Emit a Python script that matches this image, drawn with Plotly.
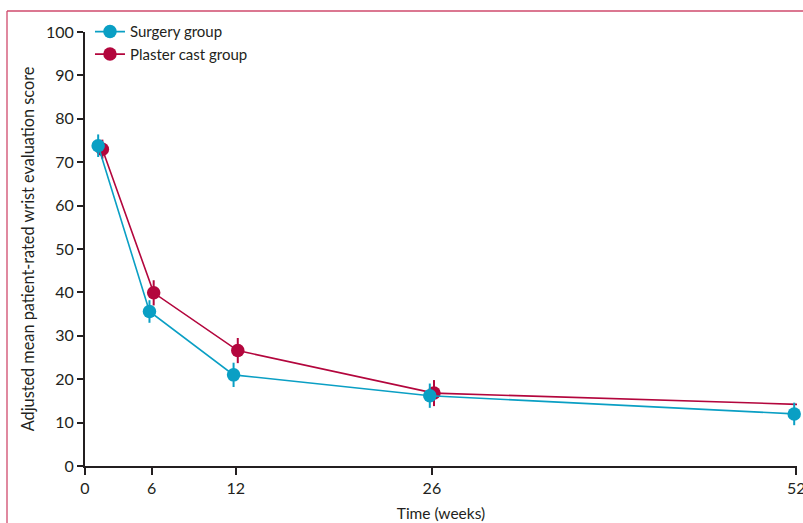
import plotly.graph_objects as go

# ---- data ----
visit_labels = ["0", "6", "12", "26", "52"]
visit_tick_pos = [1.25, 6, 12, 26, 52]        # where the drawn axis puts each label
visit_plot_x = [2.34, 6, 12, 26, 52]          # where each visit's estimate is drawn

surgery_mean = [73.8, 35.6, 21.0, 16.2, 12.0]
surgery_err = [2.6, 2.6, 2.8, 2.8, 2.6]

plaster_mean = [73.0, 39.9, 26.6, 16.8, 14.2]
plaster_err = [2.2, 2.9, 2.9, 3.0, 2.6]

y_ticks = [0, 10, 20, 30, 40, 50, 60, 70, 80, 90, 100]

# ---- style ----
TEAL = "#0a9fc4"
CRIMSON = "#b3063d"
TXT = "#231f20"
FONT = "Lato"
DODGE = 0.15

fig = go.Figure()

fig.add_trace(go.Scatter(
    x=[v + DODGE for v in visit_plot_x], y=plaster_mean,
    name="Plaster cast group", mode="lines+markers",
    line=dict(color=CRIMSON, width=1.6),
    marker=dict(color=CRIMSON, size=13.5),
    error_y=dict(type="data", array=plaster_err, color=CRIMSON, thickness=2, width=0),
    cliponaxis=False, legendrank=2,
))
fig.add_trace(go.Scatter(
    x=[v - DODGE for v in visit_plot_x], y=surgery_mean,
    name="Surgery group", mode="lines+markers",
    line=dict(color=TEAL, width=1.6),
    marker=dict(color=TEAL, size=13.5),
    error_y=dict(type="data", array=surgery_err, color=TEAL, thickness=2, width=0),
    cliponaxis=False, legendrank=1,
))

# frame corner (top and left rules of the figure panel)
px_w = 712.0
px_h = 434.0
fx = (7 - 85) / px_w
fy = (466 - 11) / px_h
fig.add_shape(type="line", xref="paper", yref="paper",
              x0=fx, x1=1.2, y0=fy, y1=fy,
              line=dict(color="#cf4a6c", width=1.3))
fig.add_shape(type="line", xref="paper", yref="paper",
              x0=fx, x1=fx, y0=fy, y1=-0.3,
              line=dict(color="#cf4a6c", width=1.3))

fig.update_layout(
    width=803, height=523,
    margin=dict(l=85, r=6, t=32, b=57, autoexpand=False),
    paper_bgcolor="white", plot_bgcolor="white",
    font=dict(family=FONT, size=16, color=TXT),
    showlegend=True,
    legend=dict(x=0.007, y=0.975, xanchor="left", yanchor="middle",
                bgcolor="rgba(0,0,0,0)", font=dict(size=15, color=TXT),
                itemwidth=30, tracegroupgap=0),
    xaxis=dict(
        range=[1.25, 52.05], tickmode="array",
        tickvals=visit_tick_pos, ticktext=visit_labels,
        showline=True, linecolor=TXT, linewidth=2,
        ticks="outside", ticklen=7, tickwidth=1.5, tickcolor=TXT,
        showgrid=False, zeroline=False, automargin=False,
        tickfont=dict(size=16), ticklabeloverflow="allow",
        title=dict(text="Time (weeks)", standoff=12, font=dict(size=15.5)),
    ),
    yaxis=dict(
        range=[0, 100], tickmode="array", tickvals=y_ticks,
        showline=True, linecolor=TXT, linewidth=2,
        ticks="outside", ticklen=6, tickwidth=1.5, tickcolor=TXT,
        showgrid=False, zeroline=False, automargin=False,
        tickfont=dict(size=16),
        title=dict(text="Adjusted mean patient-rated wrist evaluation score",
                   standoff=7, font=dict(size=16.3)),
    ),
)

fig.write_html("out.html", config={"displayModeBar": False},
               post_script="document.body.style.margin='0';")
